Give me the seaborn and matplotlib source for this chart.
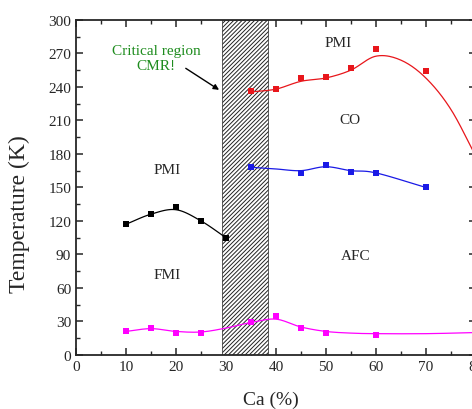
import numpy as np
import pandas as pd
import matplotlib
matplotlib.use("Agg")
import matplotlib.pyplot as plt
import seaborn as sns
from matplotlib.patches import Rectangle
from matplotlib.ticker import MultipleLocator

# measured points
ca_fmi = [10, 15, 20, 25, 30]
t_fmi = [117, 126, 132, 120, 105]

ca_low = [10, 15, 20, 25, 35, 40, 45, 50, 60]
t_low = [21, 24, 20, 20, 29, 35, 24, 20, 18]

ca_co = [35, 40, 45, 50, 55, 60, 70]
t_co = [236, 238, 248, 249, 257, 274, 254]

ca_afm = [35, 45, 50, 55, 60, 70]
t_afm = [168, 163, 170, 164, 163, 150]

# guide curves (knots)
guide_fmi_x = [10, 15, 20, 25, 30]
guide_fmi_y = [117, 126, 130, 120, 105]
guide_low_x = [10, 15, 20, 25, 30, 35, 40, 45, 50, 55, 60, 70, 80]
guide_low_y = [21, 23.5, 21, 20.5, 24, 29, 32, 25, 21, 19.5, 19, 19, 20]
guide_co_x = [35, 40, 45, 50, 55, 60, 65, 70, 75, 80]
guide_co_y = [235.5, 238, 245, 248, 255, 267.5, 264, 248, 220, 178]
guide_afm_x = [35, 40, 45, 50, 55, 60, 70]
guide_afm_y = [168, 166.5, 165, 168.5, 165, 163, 150]

cmr_lo, cmr_hi = 29.2, 38.4


def smooth(xs, ys, n=20):
    # catmull-rom through the knots
    x = np.asarray(xs, float)
    y = np.asarray(ys, float)
    px = np.concatenate([[2 * x[0] - x[1]], x, [2 * x[-1] - x[-2]]])
    py = np.concatenate([[2 * y[0] - y[1]], y, [2 * y[-1] - y[-2]]])
    ox, oy = [], []
    for i in range(1, len(px) - 2):
        t = np.linspace(0, 1, n, endpoint=False)
        for arr, out in ((px, ox), (py, oy)):
            p0, p1, p2, p3 = arr[i - 1], arr[i], arr[i + 1], arr[i + 2]
            out.extend(0.5 * (2 * p1 + (-p0 + p2) * t
                              + (2 * p0 - 5 * p1 + 4 * p2 - p3) * t ** 2
                              + (-p0 + 3 * p1 - 3 * p2 + p3) * t ** 3))
    ox.append(x[-1])
    oy.append(y[-1])
    return pd.DataFrame({"x": ox, "y": oy})


sns.set_style("ticks")
plt.rcParams["font.family"] = ["Liberation Serif", "DejaVu Serif"]
plt.rcParams["hatch.linewidth"] = 0.7

fig = plt.figure(figsize=(4.72, 4.10), dpi=100)
ax = fig.add_axes([0.161, 0.132, 0.847, 0.817])

ax.add_patch(Rectangle((cmr_lo, 0), cmr_hi - cmr_lo, 300, facecolor="white",
                       edgecolor="#222222", hatch="////////", linewidth=0.5, zorder=1))

series = [
    (guide_fmi_x, guide_fmi_y, ca_fmi, t_fmi, "black"),
    (guide_low_x, guide_low_y, ca_low, t_low, "#ff00ff"),
    (guide_co_x, guide_co_y, ca_co, t_co, "#e8161b"),
    (guide_afm_x, guide_afm_y, ca_afm, t_afm, "#1a1ae6"),
]
for gx, gy, px, py, col in series:
    curve = smooth(gx, gy)
    sns.lineplot(data=curve, x="x", y="y", sort=False, color=col, linewidth=0.9,
                 ax=ax, zorder=3)
    pts = pd.DataFrame({"x": px, "y": py})
    sns.scatterplot(data=pts, x="x", y="y", color=col, marker="s", s=18,
                    linewidth=0, ax=ax, zorder=4)

ax.set_xlim(0, 80)
ax.set_ylim(0, 300)
ax.xaxis.set_major_locator(MultipleLocator(10))
ax.xaxis.set_minor_locator(MultipleLocator(5))
ax.yaxis.set_major_locator(MultipleLocator(30))
ax.yaxis.set_minor_locator(MultipleLocator(15))
ax.tick_params(which="both", direction="in", top=True, right=True, labelsize=11)
ax.tick_params(which="major", length=5, width=1.1)
ax.tick_params(which="minor", length=3, width=1.0)
for s in ax.spines.values():
    s.set_linewidth(1.3)
ax.set_xlabel("Ca (%)", fontsize=14)
ax.set_ylabel("Temperature (K)", fontsize=17)
ax.xaxis.set_label_coords(0.4875, -0.108)
ax.yaxis.set_label_coords(-0.115, 0.424)

ax.text(16, 266, "Critical region\nCMR!", color="#1e8c1e", fontsize=11,
        ha="center", va="center", linespacing=1.15)
ax.annotate("", xy=(29.1, 236), xytext=(21.5, 258),
            arrowprops=dict(arrowstyle="-|>", color="black", lw=1.0,
                            mutation_scale=8))
labels = [(18.2, 166, "PMI"), (18.2, 72, "FMI"), (52.5, 280, "PMI"),
          (54.8, 211, "CO"), (56, 89, "AFC")]
for x, y, t in labels:
    ax.text(x, y, t, fontsize=11, ha="center", va="center")

fig.savefig("out.png", dpi=100)
